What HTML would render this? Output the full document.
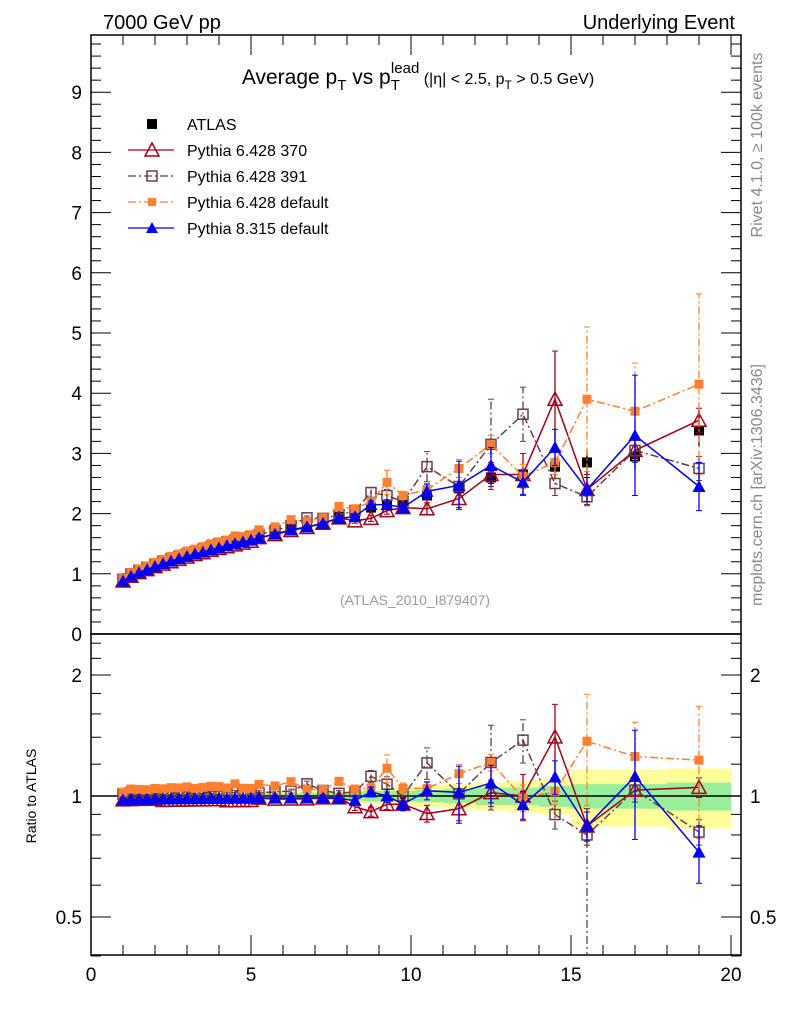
<!DOCTYPE html>
<html><head><meta charset="utf-8"><style>
html,body{margin:0;background:#fff;overflow:hidden;width:786px;height:1024px;}
svg{display:block;font-family:"Liberation Sans",sans-serif;}
</style></head><body>
<svg id="c" width="786" height="1024" viewBox="0 0 786 1024" xmlns="http://www.w3.org/2000/svg">
<text x="103" y="29" font-size="20">7000 GeV pp</text>
<text x="735" y="29" font-size="20" text-anchor="end">Underlying Event</text>
<text x="418" y="84" font-size="21" text-anchor="middle">Average p<tspan font-size="15" dy="6">T</tspan><tspan dy="-6"> vs p</tspan><tspan font-size="15" dy="6">T</tspan><tspan font-size="15" dx="-9" dy="-17">lead</tspan><tspan font-size="16" dy="11"> (|η| &lt; 2.5, p</tspan><tspan font-size="12" dy="5">T</tspan><tspan font-size="16" dy="-5"> &gt; 0.5 GeV)</tspan></text>
<text transform="translate(762,145) rotate(-90)" font-size="16" fill="#888" text-anchor="middle">Rivet 4.1.0, ≥ 100k events</text>
<text transform="translate(762,485) rotate(-90)" font-size="16" fill="#888" text-anchor="middle">mcplots.cern.ch [arXiv:1306.3436]</text>
<text x="415" y="605" font-size="14" fill="#999" text-anchor="middle">(ATLAS_2010_I879407)</text>
<text transform="translate(36,796) rotate(-90)" font-size="14" text-anchor="middle">Ratio to ATLAS</text>
</svg>
<script>
const xs=[1.0,1.25,1.5,1.75,2.0,2.25,2.5,2.75,3.0,3.25,3.5,3.75,4.0,4.25,4.5,4.75,5.0,5.25,5.75,6.25,6.75,7.25,7.75,8.25,8.75,9.25,9.75,10.5,11.5,12.5,13.5,14.5,15.5,17,19];
const atlas=[0.9,0.98,1.04,1.09,1.14,1.19,1.23,1.27,1.31,1.35,1.38,1.42,1.45,1.49,1.52,1.55,1.58,1.62,1.68,1.75,1.8,1.86,1.95,2.0,2.1,2.15,2.2,2.3,2.42,2.6,2.65,2.78,2.85,2.95,3.38];
const atlasRelErr=[0.05,0.03,0.03,0.03,0.03,0.03,0.03,0.03,0.03,0.03,0.03,0.03,0.03,0.03,0.03,0.03,0.03,0.03,0.03,0.03,0.03,0.03,0.03,0.04,0.04,0.05,0.05,0.06,0.07,0.08,0.09,0.1,0.16,0.16,0.17];
const atlasStatRelErr=[0.02,0.01,0.01,0.01,0.01,0.01,0.01,0.01,0.01,0.01,0.01,0.01,0.01,0.01,0.01,0.01,0.01,0.015,0.015,0.015,0.02,0.02,0.02,0.025,0.03,0.03,0.03,0.035,0.04,0.05,0.05,0.06,0.07,0.07,0.08];
const p370=[0.88,0.96,1.02,1.07,1.12,1.16,1.2,1.24,1.28,1.32,1.35,1.39,1.42,1.45,1.48,1.51,1.54,1.6,1.65,1.72,1.77,1.84,1.93,1.88,1.92,2.05,2.1,2.08,2.25,2.65,2.65,3.9,2.4,3.05,3.55];
const p370Err=[0.01,0.01,0.01,0.01,0.01,0.01,0.01,0.01,0.01,0.01,0.01,0.01,0.01,0.01,0.01,0.01,0.02,0.02,0.02,0.02,0.03,0.03,0.03,0.04,0.05,0.06,0.07,0.1,0.15,0.2,0.35,0.8,0.25,0.2,0.2];
const p391=[0.91,1.0,1.06,1.11,1.16,1.21,1.25,1.29,1.33,1.37,1.41,1.45,1.5,1.53,1.56,1.6,1.62,1.65,1.72,1.8,1.93,1.92,1.98,2.05,2.35,2.3,2.2,2.78,2.45,3.15,3.65,2.5,2.28,3.05,2.75];
const p391Err=[0.01,0.01,0.01,0.01,0.01,0.01,0.01,0.01,0.01,0.01,0.01,0.01,0.01,0.01,0.01,0.01,0.02,0.02,0.02,0.02,0.03,0.03,0.03,0.04,0.08,0.1,0.08,0.25,0.15,0.75,0.45,0.2,0.15,0.2,0.2];
const p391RatioErrLo=[0.01,0.01,0.01,0.01,0.01,0.01,0.01,0.01,0.01,0.01,0.01,0.01,0.01,0.01,0.01,0.01,0.02,0.02,0.02,0.02,0.03,0.03,0.03,0.04,0.08,0.1,0.08,0.25,0.15,0.75,0.45,0.2,2.3,0.2,0.2];
const pdef=[0.92,1.02,1.08,1.13,1.19,1.24,1.29,1.33,1.38,1.41,1.45,1.5,1.53,1.56,1.63,1.62,1.65,1.73,1.78,1.9,1.87,1.93,2.12,2.08,2.2,2.52,2.3,2.4,2.75,3.15,2.62,2.85,3.9,3.7,4.15];
const pdefErr=[0.01,0.01,0.01,0.01,0.01,0.01,0.01,0.01,0.01,0.01,0.01,0.01,0.01,0.01,0.01,0.01,0.02,0.02,0.02,0.02,0.03,0.03,0.05,0.05,0.06,0.2,0.07,0.1,0.15,0.15,0.2,0.2,1.2,0.8,1.5];
const p8=[0.88,0.96,1.02,1.07,1.12,1.17,1.21,1.25,1.29,1.33,1.36,1.4,1.43,1.47,1.5,1.53,1.56,1.6,1.66,1.73,1.78,1.84,1.92,1.95,2.15,2.15,2.1,2.37,2.47,2.8,2.52,3.1,2.4,3.3,2.45];
const p8Err=[0.01,0.01,0.01,0.01,0.01,0.01,0.01,0.01,0.01,0.01,0.01,0.01,0.01,0.01,0.01,0.01,0.02,0.02,0.02,0.02,0.03,0.03,0.03,0.04,0.06,0.08,0.08,0.12,0.4,0.3,0.2,0.3,0.2,1.0,0.4];
const yTicksMain=[0,1,2,3,4,5,6,7,8,9];
const xTicks=[0,5,10,15,20];
const rTicks=[0.5,1,2];

const svg=document.getElementById('c');
const NS='http://www.w3.org/2000/svg';
const L=91,R=741,T=35,MB=634,RB=955;
const X=v=>L+32*v;
const Y=v=>MB-60.2*v;
const YR=r=>796-121*Math.log2(r);
function mk(tag,attrs,parent){const e=document.createElementNS(NS,tag);for(const k in attrs)e.setAttribute(k,attrs[k]);(parent||svg).appendChild(e);return e;}

const defs=mk('defs',{});
const c1=mk('clipPath',{id:'cm'},defs);mk('rect',{x:L,y:T,width:R-L,height:MB-T},c1);
const c2=mk('clipPath',{id:'cr'},defs);mk('rect',{x:L,y:MB,width:R-L,height:RB-MB},c2);

const bands=mk('g',{'clip-path':'url(#cr)'});


function band(rel,color,nm){
  xs.forEach((x,i)=>{
    const lo=i==0?x-0.125:(xs[i-1]+x)/2, hi=i==xs.length-1?x+1:(x+xs[i+1])/2;
    const r=mk('rect',{x:X(lo),y:YR(1+rel[i]),width:X(hi)-X(lo),height:YR(1-rel[i])-YR(1+rel[i]),fill:color},bands);
    
    
  });
}
band(atlasRelErr,'#ffff99','total-uncertainty-band');
band(atlasStatRelErr,'#99ee99','stat-uncertainty-band');
mk('line',{x1:L,x2:R,y1:YR(1),y2:YR(1),stroke:'#000','stroke-width':1.5});

const fm=mk('rect',{x:L,y:T,width:R-L,height:MB-T,fill:'none',stroke:'#000','stroke-width':1.5});


const fr=mk('rect',{x:L,y:MB,width:R-L,height:RB-MB,fill:'none',stroke:'#000','stroke-width':1.5});



const tg=mk('g',{stroke:'#000','stroke-width':1});
for(let v=0;v<=9.9;v+=0.2){const y=Y(v);const maj=Math.abs(v-Math.round(v))<0.01;const len=maj?20:10;
  mk('line',{x1:L,x2:L+len,y1:y,y2:y},tg);mk('line',{x1:R,x2:R-len,y1:y,y2:y},tg);}
yTicksMain.forEach(v=>{const t=mk('text',{x:L-9,y:Y(v)+7,'font-size':19,'text-anchor':'end'});t.textContent=v;
  
  });
for(let v=0;v<=20.3;v+=1){const maj=v%5==0;const len=maj?20:10;
  mk('line',{x1:X(v),x2:X(v),y1:RB,y2:RB-len},tg);mk('line',{x1:X(v),x2:X(v),y1:T,y2:T+len},tg);}
xTicks.forEach(v=>{const t=mk('text',{x:X(v),y:RB+26,'font-size':19,'text-anchor':'middle'});t.textContent=v;
  
  });
[0.4,0.5,0.6,0.7,0.8,0.9,1,1.2,1.4,1.6,1.8,2,2.2,2.4].forEach(r=>{const maj=rTicks.includes(r);const len=maj?20:10;const y=YR(r);
  mk('line',{x1:L,x2:L+len,y1:y,y2:y},tg);mk('line',{x1:R,x2:R-len,y1:y,y2:y},tg);});
rTicks.forEach(r=>{
  const t=mk('text',{x:L-9,y:YR(r)+7,'font-size':19,'text-anchor':'end'});t.textContent=r;
  
  
  const t2=mk('text',{x:R+9,y:YR(r)+7,'font-size':19});t2.textContent=r;
  
  });

function marker(g,type,x,y,color,s){
  if(type=='sqf')mk('rect',{x:x-s,y:y-s,width:2*s,height:2*s,fill:color},g);
  else if(type=='sqo')mk('rect',{x:x-s,y:y-s,width:2*s,height:2*s,fill:'none',stroke:color,'stroke-width':1.5},g);
  else if(type=='tro')mk('polygon',{points:`${x},${y-s-1} ${x-s-1},${y+s} ${x+s+1},${y+s}`,fill:'none',stroke:color,'stroke-width':1.5},g);
  else if(type=='trf')mk('polygon',{points:`${x},${y-s-1} ${x-s-1},${y+s} ${x+s+1},${y+s}`,fill:color},g);
}
function series(name,vals,lo,hi,rlo,color,dash,type,s,isData){
  const panels=[['cm',Y,v=>v,1,lo]];
  if(!isData)panels.push(['cr',YR,(v,i)=>v/atlas[i],0,rlo]);
  panels.forEach(([clip,Yf,tf,main,lw])=>{
    const g=mk('g',{'clip-path':`url(#${clip})`});
    
    
    if(!isData){
      const pts=vals.map((v,i)=>X(xs[i])+','+Yf(tf(v,i))).join(' ');
      mk('polyline',{points:pts,fill:'none',stroke:color,'stroke-width':1.5,'stroke-dasharray':dash},g);
    }
    vals.forEach((v,i)=>{
      const a=Math.max(tf(v-lw[i],i),0.01),b=tf(v+hi[i],i);
      mk('line',{x1:X(xs[i]),x2:X(xs[i]),y1:Yf(a),y2:Yf(b),stroke:color,'stroke-width':1.3,'stroke-dasharray':dash},g);
      if(!isData){mk('line',{x1:X(xs[i])-3,x2:X(xs[i])+3,y1:Yf(a),y2:Yf(a),stroke:color},g);
        mk('line',{x1:X(xs[i])-3,x2:X(xs[i])+3,y1:Yf(b),y2:Yf(b),stroke:color},g);}
      marker(g,type,X(xs[i]),Yf(tf(v,i)),color,s);
    });
  });
}
const aErr=atlas.map((v,i)=>v*atlasStatRelErr[i]);
series('atlas-data',atlas,aErr,aErr,aErr,'#000','','sqf',5,true);
series('pythia6-370',p370,p370Err,p370Err,p370Err,'#a0001a','','tro',6,false);
series('pythia6-391',p391,p391Err,p391Err,p391RatioErrLo,'#6b3a4b','8,3,2,3','sqo',5,false);
series('pythia6-default',pdef,pdefErr,pdefErr,pdefErr,'#ff8030','8,3,2,3','sqf',4.5,false);
series('pythia8-default',p8,p8Err,p8Err,p8Err,'#0000ee','','trf',5.5,false);

const leg=[['ATLAS','#000','','sqf',5,true],['Pythia 6.428 370','#a0001a','','tro',6],['Pythia 6.428 391','#6b3a4b','8,3,2,3','sqo',5],['Pythia 6.428 default','#ff8030','8,3,2,3','sqf',4],['Pythia 8.315 default','#0000ee','','trf',5]];
leg.forEach((e,i)=>{
  const y=124+26*i;
  const g=mk('g',{});
  
  
  if(!e[5])mk('line',{x1:128,x2:174,y1:y,y2:y,stroke:e[1],'stroke-width':1.3,'stroke-dasharray':e[2]},g);
  marker(g,e[3],152,y,e[1],e[4]);
  const t=mk('text',{x:187,y:y+6,'font-size':16},g);t.textContent=e[0];
});
</script>
</body></html>
